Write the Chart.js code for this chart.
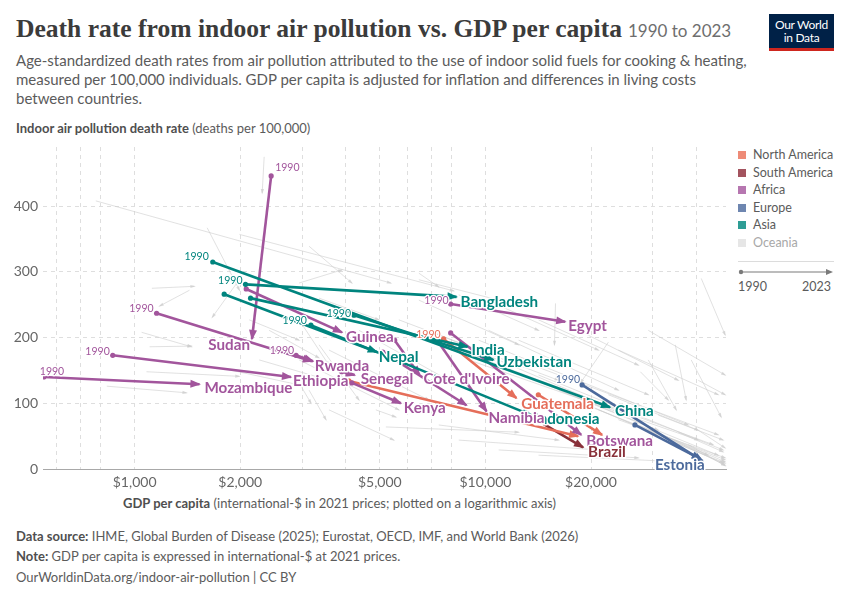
<!DOCTYPE html>
<html><head><meta charset="utf-8">
<script src="https://cdn.jsdelivr.net/npm/chart.js@4.4.1/dist/chart.umd.min.js"></script>
<style>
body{margin:0;background:#fff;}
#page{position:relative;width:850px;height:600px;overflow:hidden;font-family:Lato,"Noto Sans",sans-serif;color:#5b5b5b;}
.abs{position:absolute;white-space:nowrap;}
#title{left:16px;top:14px;line-height:30px;}
#t1{font-family:"Liberation Serif","DejaVu Serif",serif;font-weight:bold;font-size:26px;color:#3b3b3b;}
#t2{font-size:17px;color:#6e6e6e;margin-left:6px;}
#sub{left:16px;top:51px;font-size:15px;line-height:19px;color:#5b5b5b;}
#ylab{left:16px;top:120px;font-size:13px;color:#5b5b5b;}
#xlab{left:123px;top:495px;font-size:13px;color:#5b5b5b;}
.foot{left:16px;font-size:13px;color:#5b5b5b;}
b{font-weight:bold;color:#4f4f4f;}
#logo{left:769px;top:14px;width:65px;height:37px;background:#002147;color:#fff;text-align:center;font-size:12px;line-height:13px;padding-top:4px;box-sizing:border-box;letter-spacing:-0.3px;}
#logo .bar{position:absolute;left:0;bottom:0;width:65px;height:3px;background:#ce261e;}
#chartbox{position:absolute;left:0;top:140px;width:730px;height:350px;}
.leg{left:738px;font-size:12.5px;color:#5b5b5b;line-height:14px;}
.sq{display:inline-block;width:8px;height:8px;margin-right:7px;vertical-align:-0px;}
</style></head><body>
<div id="page">
  <div id="title" class="abs"><span id="t1">Death rate from indoor air pollution vs. GDP per capita</span><span id="t2">1990 to 2023</span></div>
  <div id="sub" class="abs">Age-standardized death rates from air pollution attributed to the use of indoor solid fuels for cooking &amp; heating,<br>measured per 100,000 individuals. GDP per capita is adjusted for inflation and differences in living costs<br>between countries.</div>
  <div id="ylab" class="abs"><b>Indoor air pollution death rate</b> (deaths per 100,000)</div>
  <div id="logo" class="abs">Our World<br>in Data<div class="bar"></div></div>
  <div id="chartbox"><canvas id="c"></canvas></div>
  <div id="xlab" class="abs"><b>GDP per capita</b> (international-$ in 2021 prices; plotted on a logarithmic axis)</div>
  <div class="abs foot" style="top:528px"><b>Data source:</b> IHME, Global Burden of Disease (2025); Eurostat, OECD, IMF, and World Bank (2026)</div>
  <div class="abs foot" style="top:548px"><b>Note:</b> GDP per capita is expressed in international-$ at 2021 prices.</div>
  <div class="abs foot" style="top:569px">OurWorldinData.org/indoor-air-pollution | CC BY</div>
  <div id="legend"></div>
  <svg class="abs" style="left:735px;top:255px" width="105" height="25">
    <line x1="3" y1="6.5" x2="99" y2="6.5" stroke="#dcdcdc" stroke-width="1"/>
    <line x1="6" y1="17" x2="93" y2="17" stroke="#7a7a7a" stroke-width="1.2"/>
    <circle cx="6" cy="17" r="2.2" fill="#7a7a7a"/>
    <polygon points="98,17 91,14 91,20" fill="#7a7a7a"/>
  </svg>
  <div class="abs leg" style="top:280px;left:738px">1990</div>
  <div class="abs leg" style="top:280px;left:802px">2023</div>
</div>
<script>
// ---------- Highlighted countries (1990 -> 2023) ----------
const countries = ["China","Bangladesh","Nepal","India","Uzbekistan","Indonesia","Guinea","Sudan","Egypt","Rwanda","","Ethiopia","Mozambique","Senegal","Kenya","Cote d'Ivoire","","Namibia","Botswana","Guatemala","","","Brazil","Estonia",""];
const continentOf = ["Asia","Asia","Asia","Asia","Asia","Asia","Africa","Africa","Africa","Africa","Africa","Africa","Africa","Africa","Africa","Africa","Africa","Africa","Africa","North America","North America","North America","South America","Europe","Europe"];
const gdp1990 = [1670,2070,1800,2140,4220,3180,2080,2450,7960,1155,2885,866,551,3890,4160,5510,5100,7350,7960,7600,4080,14150,12990,18860,26680];
const gdp2023 = [22650,8270,4900,8890,10540,13510,3900,2160,16880,3200,3225,2790,1530,4240,5740,6490,8830,10070,18740,12250,18370,21500,18980,41630,41080];
const rate1990 = [315,281,266,260,234,219,274,446,251,237,173,173,140,148,131,196,178,193,207,198,134,113,85,128,67];
const rate2023 = [94,262,178,186,166,82,208,198,224,164,164,140,129,143,100,143,97,88,52,108,50,52,33,12,15];

// ---------- Other countries (grey) ----------
const grayGdp1990 = [775,2340,1610,1990,1120,1047,1103,833,1081,2943,3142,1433,1987,3142,2943,15840,6459,41220,34770,38590,22410,27640,29120,6894,7858,8958,9568,10910,12430,14170,16160,17820,19660,21000,23930,27280,30090,33200,35460,37850,31100,40420,22410,12430,10210,5666,6459,4360,3581,2943,5203,7362,8393,10910,14170,4871,3581,2418,3355,6459,8393,10910,14170,18420,23930,29120,40420,2943,3355,2121,2265,1861];
const grayGdp2023 = [5375,2310,1990,8120,1480,1452,1452,1405,1987,3184,3512,1178,1665,4163,3900,15730,7362,48230,37350,46990,18660,33200,34990,27284,31100,40420,37850,44570,46070,47600,46070,48230,47600,43140,48230,48230,48230,48230,47600,48230,47600,48230,40420,29120,23930,16160,12430,7858,6894,5666,12430,16160,21000,27280,35460,5553,5481,3355,4970,10910,14170,21000,27280,35460,46070,48230,48230,3581,4360,2943,3581,2943];
const grayRate1990 = [408,475,367,357,275,208,186,126,148,131,120,272,288,339,283,252,298,290,189,166,193,148,166,211,189,166,196,158,166,143,120,105,97,90,75,67,59,44,56,37,82,59,113,196,211,227,257,211,181,166,64,67,44,29,21,90,90,211,260,288,265,249,227,211,181,211,135,227,189,227,166,151];
const grayRate2023 = [283,420,272,271,278,186,187,116,141,100,75,248,231,283,303,189,277,204,105,79,131,105,90,75,59,44,67,37,52,29,21,14,9,21,17,11,6,9,26,5,44,32,59,113,120,135,189,135,105,90,56,44,29,17,11,79,44,169,227,257,211,181,158,135,113,143,113,158,105,196,135,128];

// ---------- Axes ----------
const xGridValues = [600,700,800,1000,2000,3000,4000,5000,6000,7000,8000,10000,20000,30000,40000];
const xTickLabels = {1000:"$1,000",2000:"$2,000",5000:"$5,000",10000:"$10,000",20000:"$20,000"};
const yTickValues = [0,100,200,300,400];

// ---------- Legend ----------
const legendNames = ["North America","South America","Africa","Europe","Asia","Oceania"];

// styling
const lineColors = {"North America":"#e56e5a","South America":"#883039","Africa":"#a2559c","Europe":"#4c6a9c","Asia":"#00847e","Oceania":"#9a5129"};
const legendColors = {"North America":"#ee8b77","South America":"#a3535e","Africa":"#b676b0","Europe":"#6e86b0","Asia":"#2e9d95","Oceania":"#e6e6e6"};
const labelPlace = {"China":[5,4,"left"],"Bangladesh":[4,5,"left"],"Nepal":[2,5,"left"],"India":[4,3,"left"],"Uzbekistan":[3,2,"left"],"Indonesia":[3,4,"left"],"Guinea":[4,5,"left"],"Sudan":[-2,6,"right"],"Egypt":[3,4,"left"],"Rwanda":[3,5,"left"],"Ethiopia":[2,4,"left"],"Mozambique":[5,4,"left"],"Senegal":[6,4,"left"],"Kenya":[3,5,"left"],"Cote d'Ivoire":[4,4,"left"],"Namibia":[2,7,"left"],"Botswana":[5,6,"left"],"Guatemala":[5,6,"left"],"Brazil":[5,5,"left"],"Estonia":[2,4,"right"]};
const startLabelPlace = {0:[-4,-5,"right"],1:[-3,-4,"right"],4:[-3,-2,"right"],5:[-4,-4,"right"],7:[4,-8,"left"],8:[-2,-3,"right"],9:[-3,-5,"right"],10:[-2,-5,"right"],11:[-3,-4,"right"],12:[-4,-5,"left"],19:[-3,-4,"right"],23:[-2,-5,"right"]};

// legend html
const legDiv = document.getElementById('legend');
legendNames.forEach((n,i)=>{
  const d=document.createElement('div');
  d.className='abs leg';
  d.style.top=(148+i*17.6)+'px';
  d.innerHTML='<span class="sq" style="background:'+legendColors[n]+'"></span>'+n;
  if(n==='Oceania') d.style.color='#a8a8a8';
  legDiv.appendChild(d);
});

// fit title width
const t1=document.getElementById('t1');
const w=t1.getBoundingClientRect().width;
t1.style.fontSize=(26*606/w).toFixed(2)+'px';

const datasets=[];
for(let i=0;i<grayGdp1990.length;i++){
  datasets.push({
    data:[{x:grayGdp1990[i],y:grayRate1990[i]},{x:grayGdp2023[i],y:grayRate2023[i]}],
    showLine:true,borderColor:'rgba(205,205,205,0.75)',borderWidth:0.8,
    pointRadius:0,order:2,arrowLen:4,arrowW:3.2,kind:'gray'
  });
}
for(let i=0;i<countries.length;i++){
  const col=lineColors[continentOf[i]];
  datasets.push({
    data:[{x:gdp1990[i],y:rate1990[i]},{x:gdp2023[i],y:rate2023[i]}],
    showLine:true,borderColor:col,borderWidth:2.6,
    pointRadius:[2.6,0],pointBackgroundColor:col,pointBorderWidth:0,
    order:1,arrowLen:9,arrowW:8,kind:'hl',idx:i
  });
}

const arrowPlugin={
  id:'arrows',
  afterDatasetDraw(chart,args){
    const ds=chart.data.datasets[args.index];
    const pts=args.meta.data;
    if(!pts||pts.length<2)return;
    const a=pts[0],b=pts[1];
    const ctx=chart.ctx, ca=chart.chartArea;
    const ang=Math.atan2(b.y-a.y,b.x-a.x);
    ctx.save();
    ctx.beginPath();ctx.rect(ca.left,ca.top-2,ca.right-ca.left+2,ca.bottom-ca.top+4);ctx.clip();
    ctx.translate(b.x,b.y);ctx.rotate(ang);
    ctx.beginPath();ctx.moveTo(1.5,0);ctx.lineTo(-ds.arrowLen,-ds.arrowW/2);ctx.lineTo(-ds.arrowLen,ds.arrowW/2);ctx.closePath();
    ctx.fillStyle=ds.borderColor;ctx.fill();
    ctx.restore();
  },
  afterDatasetsDraw(chart){
    const ctx=chart.ctx;
    ctx.save();
    ctx.textBaseline='middle';
    ctx.lineJoin='round';
    chart.data.datasets.forEach((ds,k)=>{
      if(ds.kind!=='hl')return;
      const i=ds.idx;
      const meta=chart.getDatasetMeta(k);
      const a=meta.data[0];
      const col=ds.borderColor;
      const sp=startLabelPlace[i];
      if(sp){
        ctx.font='10.5px Lato';
        ctx.textAlign=sp[2];
        ctx.strokeStyle='#fff';ctx.lineWidth=2.5;
        ctx.strokeText('1990',a.x+sp[0],a.y+sp[1]);
        ctx.fillStyle=col;ctx.fillText('1990',a.x+sp[0],a.y+sp[1]);
      }
    });
    chart.data.datasets.forEach((ds,k)=>{
      if(ds.kind!=='hl')return;
      const name=countries[ds.idx];
      if(!name)return;
      const p=labelPlace[name];
      const b=chart.getDatasetMeta(k).data[1];
      ctx.font='bold 15.2px Lato';
      ctx.textAlign=p[2];
      ctx.strokeStyle='#fff';ctx.lineWidth=3;
      ctx.strokeText(name,b.x+p[0],b.y+p[1]);
      ctx.fillStyle=ds.borderColor;ctx.fillText(name,b.x+p[0],b.y+p[1]);
    });
    ctx.restore();
  }
};

new Chart(document.getElementById('c'),{
  type:'scatter',
  data:{datasets},
  plugins:[arrowPlugin],
  options:{
    responsive:true,maintainAspectRatio:false,animation:false,events:[],
    layout:{padding:{top:7,right:2,left:0,bottom:0}},
    elements:{line:{tension:0}},
    plugins:{legend:{display:false},tooltip:{enabled:false}},
    scales:{
      x:{type:'logarithmic',min:548,max:48500,
        afterBuildTicks(s){s.ticks=xGridValues.map(v=>({value:v}));},
        afterFit(s){s.height=21;s.paddingLeft=0;s.paddingRight=0;},
        ticks:{autoSkip:false,maxRotation:0,padding:5,color:'#666',font:{family:'Lato',size:14},
          callback:(v)=>xTickLabels[v]||''},
        grid:{color:'#dedede',lineWidth:1,drawTicks:false},
        border:{display:true,color:'#a8a8a8',width:1,dash:[4,4]}
      },
      y:{type:'linear',min:0,max:490,
        afterBuildTicks(s){s.ticks=yTickValues.map(v=>({value:v}));},
        afterFit(s){s.width=43;s.paddingTop=0;s.paddingBottom=0;},
        ticks:{padding:5,color:'#666',font:{family:'Lato',size:14}},
        grid:{color:(c)=>c.tick&&c.tick.value===0?'rgba(0,0,0,0)':'#dedede',lineWidth:1,drawTicks:false},
        border:{display:false,dash:[4,4]}
      }
    }
  }
});
</script>
</body></html>
